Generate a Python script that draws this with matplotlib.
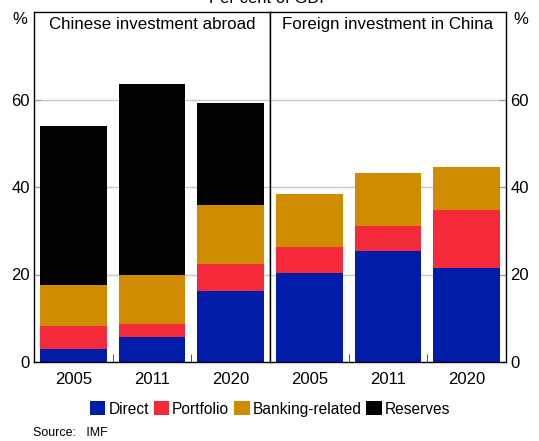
import matplotlib.pyplot as plt
from matplotlib.patches import Patch
import numpy as np

plt.rcParams['font.family'] = ['Liberation Sans', 'DejaVu Sans']

years = ['2005', '2011', '2020']
panels = ['Chinese investment abroad', 'Foreign investment in China']

# stacked levels (per cent of GDP)
abroad_direct = [3.0, 5.8, 16.3]
abroad_portfolio = [5.2, 2.8, 6.1]
abroad_banking = [9.4, 11.3, 13.6]
abroad_reserves = [36.3, 43.7, 23.1]

china_direct = [20.4, 25.4, 21.5]
china_portfolio = [6.0, 5.6, 13.3]
china_banking = [11.9, 12.1, 9.7]
china_reserves = [0, 0, 0]

series = ['Direct', 'Portfolio', 'Banking-related', 'Reserves']
colors = ['#001ca8', '#f42a3b', '#d08c00', '#000000']

data = [
    [abroad_direct, abroad_portfolio, abroad_banking, abroad_reserves],
    [china_direct, china_portfolio, china_banking, china_reserves],
]

fig = plt.figure(figsize=(5.39, 4.41), dpi=100)
ax1 = fig.add_axes([34 / 539, 1 - 362 / 441, 236 / 539, 350 / 441])
ax2 = fig.add_axes([270 / 539, 1 - 362 / 441, 236 / 539, 350 / 441])

x = np.arange(len(years))
for ax, title, vals in zip([ax1, ax2], panels, data):
    bottom = np.zeros(len(years))
    for v, c in zip(vals, colors):
        v = np.array(v)
        ax.bar(x, v, bottom=bottom, width=0.85, color=c, zorder=2)
        bottom += v
    ax.set_xlim(-0.5, 2.5)
    ax.set_ylim(0, 80)
    ax.set_yticks([0, 20, 40, 60])
    ax.grid(axis='y', color='#c8c8c8', linewidth=1, zorder=0)
    ax.set_xticks(x)
    ax.set_xticklabels(years, fontsize=12)
    ax.set_xticks([0.5, 1.5], minor=True)
    ax.tick_params(axis='x', which='major', length=0, pad=7)
    ax.tick_params(axis='x', which='minor', direction='in', length=6, color='#333333')
    ax.tick_params(axis='y', direction='in', length=5, color='#999999', labelsize=12)
    for s in ax.spines.values():
        s.set_color('black')
        s.set_linewidth(1)
    ax.text(0.5, 0.985, title, transform=ax.transAxes, ha='center', va='top', fontsize=12.2)

ax1.tick_params(axis='y', left=True, right=False, labelleft=True, labelright=False, pad=3)
ax2.tick_params(axis='y', left=False, right=True, labelleft=False, labelright=True, pad=3)

ax1.text(-0.03, 1.0, '%', transform=ax1.transAxes, ha='right', va='top', fontsize=12)
ax2.text(1.03, 1.0, '%', transform=ax2.transAxes, ha='left', va='top', fontsize=12)

fig.text(0.5, 1 - 3 / 441, 'Per cent of GDP', ha='center', va='baseline', fontsize=12)

handles = [Patch(facecolor=c, label=s) for s, c in zip(series, colors)]
fig.legend(handles=handles, loc='center', bbox_to_anchor=(270 / 539, 1 - 409 / 441),
           ncol=4, frameon=False, fontsize=11.2, handlelength=1.0, handleheight=1.0,
           handletextpad=0.2, columnspacing=0.3)

fig.text(33 / 539, 1 - 433 / 441, 'Source:   IMF', ha='left', va='center', fontsize=9)

fig.savefig('out.png', dpi=100)
